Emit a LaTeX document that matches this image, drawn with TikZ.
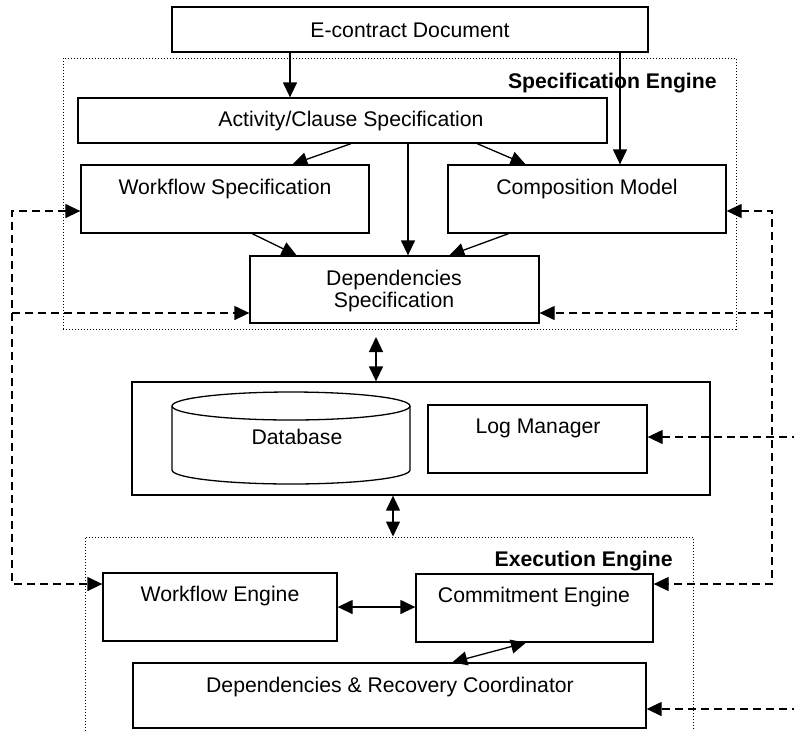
\documentclass[tikz,border=0pt]{standalone}
\usepackage{fontspec}
\setmainfont{Liberation Sans}
\usetikzlibrary{arrows.meta,fit,calc}
\begin{document}
\begin{tikzpicture}[x=0.5pt,y=-0.5pt,
  box/.style={draw, line width=0.65pt, inner sep=0pt},
  dotbox/.style={draw, densely dotted, line width=0.5pt, inner sep=0pt},
  txt/.style={inner sep=0pt, font=\fontsize{10.6pt}{12.7pt}\selectfont},
  btxt/.style={inner sep=0pt, font=\fontsize{10.6pt}{12.7pt}\selectfont\bfseries},
  tip/.tip={Triangle[length=7.5pt,width=7pt]},
  arr/.style={line width=0.65pt, -tip},
  dbl/.style={line width=0.65pt, tip-tip},
  dsh/.style={line width=0.65pt, dash pattern=on 4pt off 2.5pt, -tip},
  dshb/.style={line width=0.65pt, dash pattern=on 4pt off 2.5pt, tip-tip},
]
\useasboundingbox (0,0) rectangle (794,730);
\clip (0,0) rectangle (794,730);

% engine frames
\node[dotbox, fit={(63,58) (736,329)}] (spec) {};
\node[btxt, anchor=east] at (717,83) {Specification Engine};
\node[dotbox, fit={(85,537) (693,760)}] (exec) {};
\node[btxt, anchor=east] at (673,561) {Execution Engine};

% specification side
\node[box, fit={(172,7) (648,52)}] (ec) {};
\node[txt] at (410,30) {E-contract Document};
\node[box, fit={(78,98) (607,143)}] (act) {};
\node[txt] at (351,121) {Activity/Clause Specification};
\node[box, fit={(81,165) (369,233)}] (wfs) {};
\node[txt] at (225,189) {Workflow Specification};
\node[box, fit={(448,165) (726,233)}] (comp) {};
\node[txt] at (587,189) {Composition Model};
\node[box, fit={(250,256) (539,323)}] (dep) {};
\node[txt, align=center] at (394,291) {Dependencies\\[-1.5pt]Specification};

% storage
\node[box, fit={(132,382) (710,495)}] (mid) {};
\draw[line width=0.65pt] (291,406) ellipse [x radius=59.5pt, y radius=7pt];
\draw[line width=0.65pt] (172,406) -- (172,470) arc [start angle=180, end angle=360, x radius=59.5pt, y radius=7pt] -- (410,406);
\node[txt] at (297,437) {Database};
\node[box, fit={(428,405) (647,473)}] (lm) {};
\node[txt] at (538,428) {Log Manager};

% execution side
\node[box, fit={(103,573) (337,641)}] (wfe) {};
\node[txt] at (220,596) {Workflow Engine};
\node[box, fit={(416,574) (653,642)}] (ce) {};
\node[txt] at (534,597) {Commitment Engine};
\node[box, fit={(133,663) (646,728)}] (drc) {};
\node[txt] at (390,687) {Dependencies \& Recovery Coordinator};

% solid connectors
\coordinate (v1) at (290,0);
\coordinate (v2) at (620,0);
\coordinate (v3) at (408,0);
\draw[arr] (ec.south -| v1) -- (act.north -| v1);
\draw[arr] (ec.south -| v2) -- (comp.north -| v2);
\draw[arr] (act.south -| v3) -- (dep.north -| v3);
\draw[arr] ($(act.south west)!0.516!(act.south east)$) -- ($(wfs.north west)!0.733!(wfs.north east)$);
\draw[arr] ($(act.south west)!0.754!(act.south east)$) -- ($(comp.north west)!0.28!(comp.north east)$);
\draw[arr] ($(wfs.south west)!0.594!(wfs.south east)$) -- ($(dep.north west)!0.163!(dep.north east)$);
\draw[arr] ($(comp.south west)!0.219!(comp.south east)$) -- ($(dep.north west)!0.689!(dep.north east)$);

\coordinate (d1) at (376,337);
\draw[dbl] (d1) -- (d1 |- mid.north);
\coordinate (d2) at (393,0);
\draw[dbl] (mid.south -| d2) -- (exec.north -| d2);
\draw[dbl] (wfe.east) -- (wfe.east -| ce.west);
\draw[dbl] ($(ce.south west)!0.464!(ce.south east)$) -- ($(drc.north west)!0.622!(drc.north east)$);

% dashed feedback lines
\coordinate (L1) at (12,211);
\coordinate (L2) at (12,584);
\coordinate (L3) at (12,313);
\draw[dshb] (L1 -| wfs.west) -- (L1) -- (L2) -- (L2 -| wfe.west);
\draw[dsh] (L3) -- (L3 -| dep.west);
\coordinate (R1) at (772,211);
\coordinate (R2) at (772,584);
\coordinate (R3) at (772,313);
\draw[dshb] (R1 -| comp.east) -- (R1) -- (R2) -- (R2 -| ce.east);
\draw[dsh] (R3) -- (R3 -| dep.east);
\coordinate (R4) at (800,437);
\draw[dsh] (R4) -- (R4 -| lm.east);
\coordinate (R5) at (800,709);
\draw[dsh] (R5) -- (R5 -| drc.east);
\end{tikzpicture}
\end{document}
